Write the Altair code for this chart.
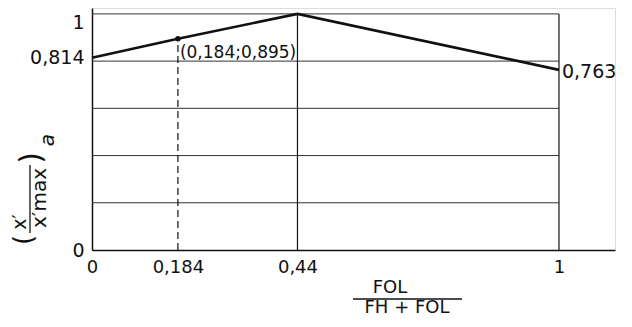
import altair as alt
import pandas as pd

# ---- data ----
x_vals = [0, 0.184, 0.44, 1]
y_vals = [0.814, 0.895, 1.0, 0.763]
grid_y = [0.2, 0.4, 0.6, 0.8, 1.0]
vline_x = [0.44, 1.0]
dash_x = [0.184]
dash_top = [0.895]
x_tick_vals = [0, 0.184, 0.44, 1]
y_tick_vals = [0, 0.814, 1]
point_label = ["(0,184;0,895)"]
end_label = ["0,763"]

FONT = "DejaVu Sans"
INK = "#111111"

line_df = pd.DataFrame({"x": x_vals, "y": y_vals})
grid_df = pd.DataFrame({"x0": [0] * len(grid_y), "x1": [1] * len(grid_y), "y": grid_y})
vline_df = pd.DataFrame({"x": vline_x, "y0": [0] * len(vline_x), "y1": [1] * len(vline_x)})
dash_df = pd.DataFrame({"x": dash_x, "y0": [0], "y1": dash_top})
pt_df = pd.DataFrame({"x": [x_vals[1]], "y": [y_vals[1]], "t": point_label})
end_df = pd.DataFrame({"x": [x_vals[-1]], "y": [y_vals[-1]], "t": end_label})
dummy = pd.DataFrame({"a": [0]})

xs = alt.Scale(domain=[0, 1.12], nice=False, zero=False)
ys = alt.Scale(domain=[0, 1.025], nice=False, zero=False)

lab = "replace(toString(datum.value), '.', ',')"
x_axis = alt.Axis(values=x_tick_vals, labelExpr=lab, title=None, ticks=False, grid=False,
                  domainColor=INK, domainWidth=1.5, labelFont=FONT, labelFontSize=18,
                  labelColor=INK, labelPadding=8, labelFlush=False, labelOverlap=False)
y_axis = alt.Axis(values=y_tick_vals, labelExpr=lab, title=None, ticks=False, grid=False,
                  domainColor=INK, domainWidth=1.5, labelFont=FONT, labelFontSize=19,
                  labelColor=INK, labelPadding=8, labelOverlap=False,
                  labelBaseline=alt.ExprRef("datum.value == 1 ? 'top' : 'middle'"),
                  labelFlush=False)

X = lambda f: alt.X(f, type="quantitative", scale=xs, axis=x_axis)
Y = lambda f: alt.Y(f, type="quantitative", scale=ys, axis=y_axis)

grid = alt.Chart(grid_df).mark_rule(color="#333333", strokeWidth=1).encode(
    x=X("x0"), x2="x1", y=Y("y"))
vlines = alt.Chart(vline_df).mark_rule(color=INK, strokeWidth=1.2).encode(
    x=X("x"), y=Y("y0"), y2="y1")
dash = alt.Chart(dash_df).mark_rule(color=INK, strokeWidth=1.2, strokeDash=[7, 4]).encode(
    x=X("x"), y=Y("y0"), y2="y1")
line = alt.Chart(line_df).mark_line(color=INK, strokeWidth=2.6).encode(x=X("x"), y=Y("y"))
point = alt.Chart(pt_df).mark_point(filled=True, color=INK, size=30, opacity=1).encode(
    x=X("x"), y=Y("y"))
pt_text = alt.Chart(pt_df).mark_text(font=FONT, fontSize=17, color=INK, align="left",
                                     baseline="middle", dx=2, dy=14).encode(
    x=X("x"), y=Y("y"), text="t:N")
end_text = alt.Chart(end_df).mark_text(font=FONT, fontSize=19, color=INK, align="left",
                                       baseline="middle", dx=3, dy=2).encode(
    x=X("x"), y=Y("y"), text="t:N")


def txt(s, px, py, size, angle=0, style="normal"):
    kw = dict(font=FONT, fontSize=size, color=INK, align="center", baseline="middle",
              text=s, fontStyle=style)
    if angle:
        kw["angle"] = angle
    return alt.Chart(dummy).mark_text(**kw).encode(x=alt.value(px), y=alt.value(py))


def prule(px, px2, py, py2):
    return alt.Chart(dummy).mark_rule(color=INK, strokeWidth=1.3).encode(
        x=alt.value(px), x2=alt.value(px2), y=alt.value(py), y2=alt.value(py2))


# y-axis title: ( x' / x'max ) a, rotated
ytitle = [
    txt("(", -68, 232, 26, 270),
    txt("x\u2032", -72, 214, 19, 270),
    prule(-62, -62, 157, 225),
    txt("x\u2032max", -52, 190, 20, 270),
    txt(")", -60, 150, 30, 270),
    txt("a", -44, 132, 20, 270, "italic"),
]
# x-axis title: FOL / (FH + FOL)
xtitle = [
    txt("FOL", 298, 280, 18),
    prule(261, 370, 291, 291),
    txt("FH + FOL", 315, 300, 18),
]

chart = alt.layer(grid, vlines, dash, line, point, pt_text, end_text, *ytitle, *xtitle).properties(
    width=523, height=242,
    autosize=alt.AutoSizeParams(type="none"),
    padding={"left": 84, "top": 0, "right": 8, "bottom": 75},
).configure_view(stroke=None).configure(background="white")

chart.save("out.html", embed_options={"renderer": "svg", "actions": False})
